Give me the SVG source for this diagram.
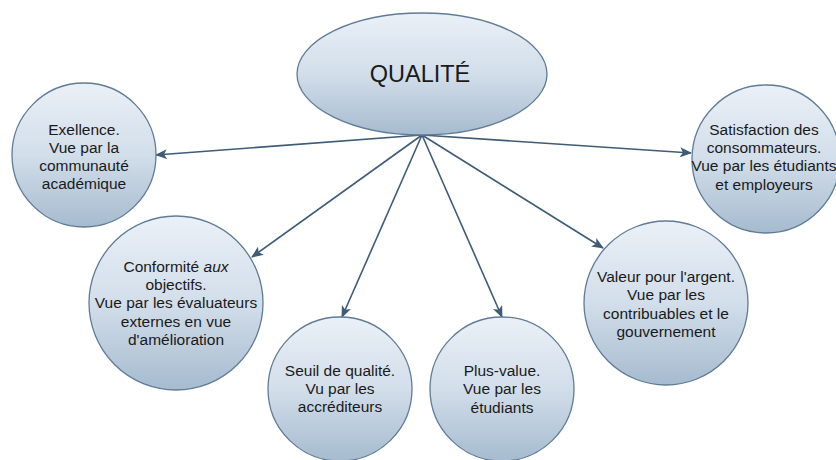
<svg xmlns="http://www.w3.org/2000/svg" width="836" height="460" viewBox="0 0 836 460">
<defs>
<linearGradient id="g" x1="0" y1="0" x2="0" y2="1">
<stop offset="0" stop-color="#eaf0f7"/>
<stop offset="0.5" stop-color="#d2deea"/>
<stop offset="1" stop-color="#a6bbcf"/>
</linearGradient>
<marker id="arr" viewBox="0 0 12 10" refX="11" refY="5" markerWidth="12" markerHeight="10" markerUnits="userSpaceOnUse" orient="auto">
<path d="M0,0 L12,5 L0,10 L3,5 Z" fill="#3e5b78"/>
</marker>
<style>
.n{fill:url(#g);stroke:#5f7b96;stroke-width:1.3}
.t{font-family:"Liberation Sans",Arial,sans-serif;font-size:15.5px;fill:#1a1a1a;text-anchor:middle}
.c{stroke:#3e5b78;stroke-width:1.6;fill:none;marker-end:url(#arr)}
</style>
</defs>
<rect width="836" height="460" fill="#ffffff"/>
<g id="connectors">
<line class="c" x1="422" y1="135" x2="156" y2="155"/>
<line class="c" x1="422" y1="135" x2="252" y2="257"/>
<line class="c" x1="422" y1="135" x2="342" y2="317"/>
<line class="c" x1="422" y1="135" x2="502" y2="317"/>
<line class="c" x1="422" y1="135" x2="603" y2="248"/>
<line class="c" x1="422" y1="135" x2="691" y2="153"/>
</g>
<g id="qualite">
<ellipse class="n" cx="422" cy="74" rx="125" ry="61"/>
<text class="t" x="420" y="82" style="font-size:23.5px">QUALITÉ</text>
</g>
<g id="excellence">
<circle class="n" cx="84" cy="155" r="72"/>
<text class="t" x="84" y="135">Exellence.</text>
<text class="t" x="84" y="153">Vue par la</text>
<text class="t" x="84" y="171">communauté</text>
<text class="t" x="84" y="189">académique</text>
</g>
<g id="conformite">
<circle class="n" cx="176" cy="303" r="87"/>
<text class="t" x="176" y="272">Conformité <tspan font-style="italic">aux</tspan></text>
<text class="t" x="176" y="290">objectifs.</text>
<text class="t" x="176" y="308">Vue par les évaluateurs</text>
<text class="t" x="176" y="327">externes en vue</text>
<text class="t" x="176" y="345">d'amélioration</text>
</g>
<g id="seuil">
<circle class="n" cx="340" cy="389" r="72"/>
<text class="t" x="340" y="376">Seuil de qualité.</text>
<text class="t" x="340" y="394">Vu par les</text>
<text class="t" x="340" y="412">accréditeurs</text>
</g>
<g id="plusvalue">
<circle class="n" cx="502" cy="389" r="72"/>
<text class="t" x="502" y="376">Plus-value.</text>
<text class="t" x="502" y="394">Vue par les</text>
<text class="t" x="502" y="413">étudiants</text>
</g>
<g id="valeur">
<circle class="n" cx="666" cy="303" r="82"/>
<text class="t" x="666" y="282">Valeur pour l'argent.</text>
<text class="t" x="666" y="300">Vue par les</text>
<text class="t" x="666" y="319">contribuables et le</text>
<text class="t" x="666" y="337">gouvernement</text>
</g>
<g id="satisfaction">
<circle class="n" cx="766" cy="159" r="74"/>
<text class="t" x="764" y="135">Satisfaction des</text>
<text class="t" x="764" y="153">consommateurs.</text>
<text class="t" x="764" y="171">Vue par les étudiants</text>
<text class="t" x="764" y="190">et employeurs</text>
</g>
</svg>
